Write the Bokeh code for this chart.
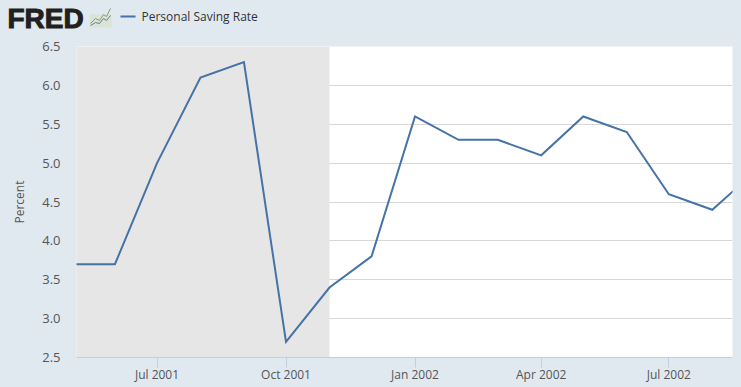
from datetime import datetime
from bokeh.embed import file_html
from bokeh.resources import INLINE
from bokeh.layouts import column
from bokeh.plotting import figure
from bokeh.core.properties import value
from bokeh.models import FixedTicker, BoxAnnotation, Range1d

dates = ["2001-05-01","2001-06-01","2001-07-01","2001-08-01","2001-09-01","2001-10-01","2001-11-01",
         "2001-12-01","2002-01-01","2002-02-01","2002-03-01","2002-04-01","2002-05-01","2002-06-01",
         "2002-07-01","2002-08-01","2002-09-01"]
saving_rate = [3.7,3.7,5.0,6.1,6.3,2.7,3.4,3.8,5.6,5.3,5.3,5.1,5.6,5.4,4.6,4.4,4.9]
series_name = "Personal Saving Rate"
logo_text = "FRED"
y_label = "Percent"
y_ticks = [2.5,3.0,3.5,4.0,4.5,5.0,5.5,6.0,6.5]
x_tick_dates = ["2001-07-01","2001-10-01","2002-01-01","2002-04-01","2002-07-01"]
x_tick_labels = ["Jul 2001","Oct 2001","Jan 2002","Apr 2002","Jul 2002"]
recession = ["2001-03-01","2001-11-01"]
x_start, x_end = "2001-05-04 14:00","2002-08-15 10:00"

BG = "#e1e9f0"
TXT = "#555555"
HEAD_H = 36
def ms(s):
    fmt = "%Y-%m-%d %H:%M" if " " in s else "%Y-%m-%d"
    return (datetime.strptime(s, fmt) - datetime(1970,1,1)).total_seconds()*1000

xs = [ms(d) for d in dates]

# header strip: logo, mini chart icon, legend
h = figure(width=741, height=HEAD_H, output_backend="svg", toolbar_location=None,
           x_range=Range1d(0,741), y_range=Range1d(HEAD_H,0),
           background_fill_color=BG, border_fill_color=BG,
           min_border=0, outline_line_color=None, x_axis_location=None, y_axis_location=None)
h.frame_align = False
h.grid.visible = False
h.text([7],[18],text=[logo_text],text_font=value("Liberation Sans"),text_font_style="bold",
       text_font_size="28px",text_color="#231f20",text_baseline="middle",
       text_outline_color="#231f20")
h.quad(left=[89],right=[111],top=[14],bottom=[27],fill_color="#dde2d6",line_color=None)
h.line([90,95,99,103,106,110],[23,18,20,14,16,8],line_color="#7f9c6e",line_width=1)
h.line([90,95,99,103,106,110],[25,22,23,18,20,15],line_color="#5f7f93",line_width=1)
h.line([120,135],[16,16],line_color="#4572a7",line_width=2)
h.text([141],[16],text=[series_name],text_font=value("Open Sans"),text_font_size="12px",
       text_color="#333333",text_baseline="middle")

p = figure(width=741, height=387-HEAD_H, output_backend="svg", toolbar_location=None,
           x_axis_type="datetime", x_range=Range1d(ms(x_start), ms(x_end)), y_range=Range1d(2.5,6.5),
           background_fill_color="white", border_fill_color=BG,
           min_border_left=76, min_border_right=9, min_border_top=46-HEAD_H, min_border_bottom=30)
p.frame_align = False
p.outline_line_color = None
p.add_layout(BoxAnnotation(left=ms(recession[0]), right=ms(recession[1]), fill_color="#e6e6e6",
                           fill_alpha=1, line_color=None, level="underlay"))
p.line(xs, saving_rate, line_color="#4572a7", line_width=2, line_join="miter")

xa = p.xaxis[0]
xa.ticker = FixedTicker(ticks=[ms(d) for d in x_tick_dates])
xa.major_label_overrides = {ms(d): l for d,l in zip(x_tick_dates,x_tick_labels)}
xa.axis_line_color = "#c0d0e0"
xa.major_tick_line_color = "#c0d0e0"
xa.major_tick_out = 10
xa.major_tick_in = 0
xa.minor_tick_line_color = None
xa.major_label_text_font = "Open Sans"
xa.major_label_text_font_size = "12px"
xa.major_label_text_color = TXT
xa.major_label_standoff = -2

ya = p.yaxis[0]
ya.ticker = FixedTicker(ticks=y_ticks)
ya.major_label_overrides = {t: f"{t:.1f}" for t in y_ticks}
ya.axis_line_color = None
ya.major_tick_line_color = None
ya.minor_tick_line_color = None
ya.major_label_text_font = "Open Sans"
ya.major_label_text_font_size = "13px"
ya.major_label_text_color = TXT
ya.major_label_standoff = 10
ya.axis_label = y_label
ya.axis_label_text_font = "Open Sans"
ya.axis_label_text_font_style = "normal"
ya.axis_label_text_font_size = "12px"
ya.axis_label_text_color = TXT
ya.axis_label_standoff = 11

p.xgrid.grid_line_color = None
p.ygrid.grid_line_color = "#d8d8d8"
p.ygrid.ticker = FixedTicker(ticks=y_ticks)

layout = column(h, p, spacing=0)
html = file_html(layout, INLINE)
html = html.replace("<head>", "<head><style>html,body{background:%s;overflow:hidden;}</style>" % BG, 1)
open("out.html","w").write(html)
